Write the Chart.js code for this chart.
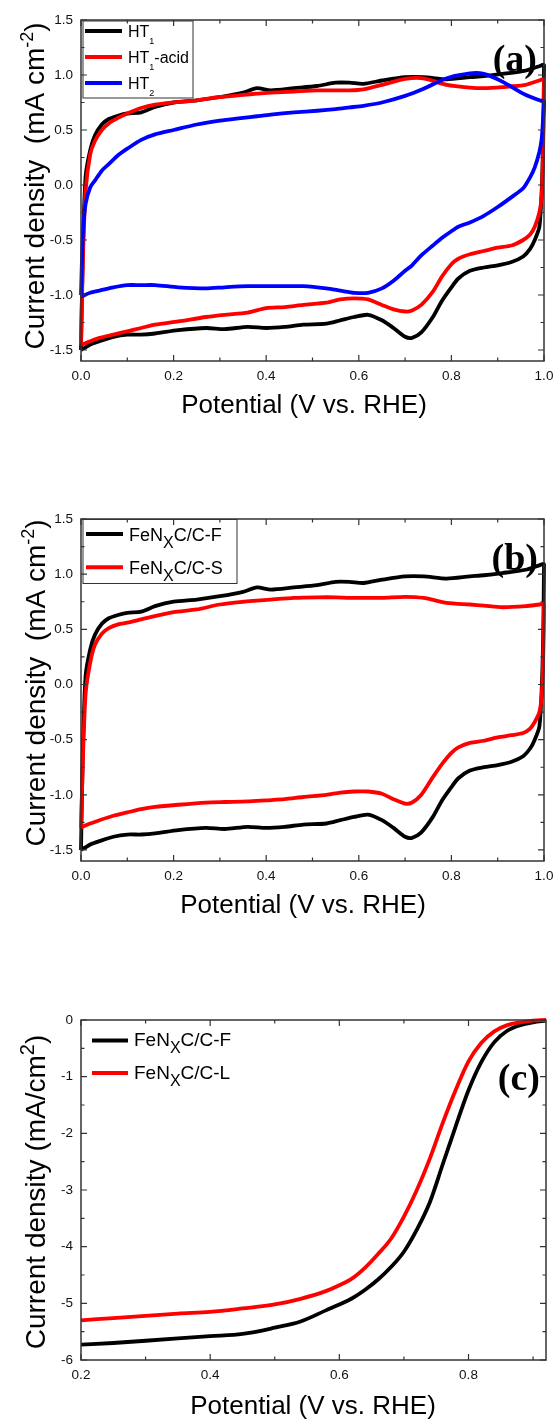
<!DOCTYPE html>
<html lang="en">
<head>
<meta charset="UTF-8">
<title>CV and LSV curves</title>
<script src="https://cdn.jsdelivr.net/npm/chart.js/dist/chart.umd.min.js"></script>
<style>
  html, body { margin: 0; padding: 0; background: #fff; overflow: hidden; }
  canvas { position: absolute; left: 0; }
</style>
</head>
<body>
<canvas id="chartA" width="557" height="440" style="top:0px"></canvas>
<canvas id="chartB" width="557" height="440" style="top:500px"></canvas>
<canvas id="chartC" width="557" height="459" style="top:960px"></canvas>

<script>
// ---------- data ----------
// CV potential grids (V vs. RHE): anodic sweep 0 -> 1, cathodic sweep 1 -> 0
const cvUpV   = [0, 0.004, 0.01, 0.02, 0.03, 0.045, 0.06, 0.08, 0.1, 0.13, 0.16, 0.2, 0.25, 0.3, 0.35, 0.38, 0.41, 0.46, 0.51, 0.55, 0.58, 0.61, 0.65, 0.7, 0.74, 0.79, 0.84, 0.87, 0.91, 0.96, 0.99, 1.0];
const cvDownV = [0.998, 0.995, 0.99, 0.98, 0.97, 0.955, 0.93, 0.9, 0.87, 0.84, 0.815, 0.8, 0.78, 0.76, 0.735, 0.715, 0.7, 0.675, 0.65, 0.62, 0.59, 0.56, 0.53, 0.48, 0.44, 0.4, 0.36, 0.31, 0.27, 0.21, 0.16, 0.13, 0.1, 0.07, 0.04, 0.02, 0.008, 0.003, 0];

// (a) current density, mA cm-2
const ht1Up       = [-1.50, -0.60, 0.08, 0.32, 0.45, 0.55, 0.60, 0.63, 0.65, 0.66, 0.71, 0.75, 0.77, 0.80, 0.84, 0.88, 0.86, 0.88, 0.90, 0.93, 0.93, 0.92, 0.95, 0.98, 0.98, 0.96, 0.98, 0.99, 1.01, 1.04, 1.08, 1.09];
const ht1Down     = [0.40, -0.05, -0.38, -0.50, -0.58, -0.65, -0.70, -0.73, -0.75, -0.78, -0.85, -0.93, -1.05, -1.20, -1.34, -1.39, -1.38, -1.30, -1.23, -1.18, -1.20, -1.23, -1.26, -1.27, -1.29, -1.30, -1.29, -1.31, -1.30, -1.32, -1.35, -1.36, -1.36, -1.38, -1.42, -1.45, -1.48, -1.49, -1.50];
const ht1AcidUp   = [-1.45, -0.70, -0.05, 0.28, 0.40, 0.50, 0.56, 0.61, 0.65, 0.70, 0.73, 0.75, 0.77, 0.80, 0.82, 0.83, 0.84, 0.85, 0.86, 0.86, 0.86, 0.87, 0.91, 0.965, 0.97, 0.91, 0.885, 0.88, 0.89, 0.91, 0.95, 0.96];
const ht1AcidDown = [0.30, -0.10, -0.25, -0.38, -0.45, -0.50, -0.55, -0.57, -0.60, -0.63, -0.67, -0.72, -0.83, -0.97, -1.09, -1.14, -1.15, -1.13, -1.09, -1.04, -1.03, -1.04, -1.07, -1.09, -1.11, -1.12, -1.16, -1.18, -1.20, -1.24, -1.27, -1.30, -1.33, -1.36, -1.39, -1.42, -1.44, -1.45, -1.45];
const ht2Up       = [-1.00, -0.45, -0.17, -0.02, 0.04, 0.13, 0.19, 0.27, 0.33, 0.41, 0.46, 0.50, 0.55, 0.585, 0.61, 0.625, 0.64, 0.66, 0.675, 0.69, 0.705, 0.72, 0.75, 0.81, 0.875, 0.97, 1.015, 1.01, 0.94, 0.82, 0.77, 0.76];
const ht2Down     = [0.60, 0.42, 0.30, 0.16, 0.07, -0.03, -0.11, -0.20, -0.28, -0.34, -0.38, -0.42, -0.48, -0.55, -0.64, -0.73, -0.78, -0.87, -0.94, -0.98, -0.98, -0.96, -0.94, -0.92, -0.92, -0.92, -0.92, -0.93, -0.94, -0.93, -0.91, -0.91, -0.91, -0.93, -0.96, -0.98, -1.00, -1.01, -1.01];

// (b) FeNxC/C-F is the same trace as HT1, FeNxC/C-S below
const feFUp   = ht1Up;
const feFDown = ht1Down;
const feSUp   = [-1.30, -0.70, -0.08, 0.20, 0.36, 0.46, 0.51, 0.545, 0.56, 0.59, 0.62, 0.655, 0.68, 0.725, 0.75, 0.76, 0.77, 0.785, 0.79, 0.79, 0.785, 0.785, 0.785, 0.795, 0.785, 0.74, 0.725, 0.715, 0.70, 0.71, 0.725, 0.73];
const feSDown = [0.20, -0.10, -0.25, -0.34, -0.40, -0.44, -0.46, -0.48, -0.51, -0.53, -0.57, -0.62, -0.72, -0.84, -1.00, -1.07, -1.08, -1.04, -0.99, -0.97, -0.97, -0.98, -1.00, -1.02, -1.04, -1.05, -1.06, -1.065, -1.07, -1.09, -1.11, -1.13, -1.16, -1.19, -1.23, -1.26, -1.28, -1.29, -1.30];

// (c) LSV, mA/cm2
const lsvV = [0.2, 0.25, 0.3, 0.35, 0.4, 0.45, 0.5, 0.54, 0.58, 0.6, 0.62, 0.64, 0.66, 0.68, 0.7, 0.72, 0.74, 0.76, 0.78, 0.8, 0.82, 0.84, 0.86, 0.88, 0.9, 0.92];
const lsvF = [-5.73, -5.70, -5.66, -5.62, -5.58, -5.54, -5.43, -5.32, -5.12, -5.02, -4.91, -4.76, -4.58, -4.36, -4.09, -3.70, -3.22, -2.55, -1.88, -1.24, -0.74, -0.39, -0.19, -0.09, -0.04, -0.01];
const lsvL = [-5.30, -5.26, -5.22, -5.18, -5.15, -5.09, -5.02, -4.92, -4.78, -4.68, -4.56, -4.37, -4.13, -3.86, -3.47, -3.00, -2.45, -1.82, -1.24, -0.73, -0.40, -0.20, -0.09, -0.04, -0.01, 0];

// tick values
const xTicksCV  = [0, 0.2, 0.4, 0.6, 0.8, 1.0];
const yTicksCV  = [-1.5, -1.0, -0.5, 0, 0.5, 1.0, 1.5];
const xTicksLSV = [0.2, 0.4, 0.6, 0.8];
const yTicksLSV = [-6, -5, -4, -3, -2, -1, 0];

// labels ( _{..} = subscript, ^{..} = superscript )
const seriesA = ['HT_{1}', 'HT_{1}-acid', 'HT_{2}'];
const seriesB = ['FeN_{X}C/C-F', 'FeN_{X}C/C-S'];
const seriesC = ['FeN_{X}C/C-F', 'FeN_{X}C/C-L'];
const xTitle  = 'Potential (V vs. RHE)';
const yTitleCV  = 'Current density  (mA cm^{-2})';
const yTitleLSV = 'Current density (mA/cm^{2})';

const BLACK = '#000000', RED = '#ff0000', BLUE = '#0000ff';
const FONT = '"Liberation Sans", Arial, sans-serif';
Chart.defaults.font.family = FONT;

// ---------- helpers ----------
const pts = (xs, ys) => xs.map((x, i) => ({x: x, y: ys[i]}));
const loop = (up, down) => pts(cvUpV, up).concat(pts(cvDownV, down));

function parseRich(str) {
  const out = [];
  const re = /([_^])\{([^}]*)\}/g;
  let last = 0, m;
  while ((m = re.exec(str))) {
    if (m.index > last) out.push({t: str.slice(last, m.index), k: 'n'});
    out.push({t: m[2], k: m[1] === '_' ? 'sub' : 'sup'});
    last = re.lastIndex;
  }
  if (last < str.length) out.push({t: str.slice(last), k: 'n'});
  return out;
}

// st = {size, sub:{size,dy}, sup:{size,dy}}
function richParts(str, st) {
  return parseRich(str).map(p => {
    const s = p.k === 'n' ? {size: st.size, dy: 0} : st[p.k];
    return {t: p.t, size: s.size, dy: s.dy};
  });
}
function richWidth(ctx, parts) {
  let w = 0;
  parts.forEach(p => { ctx.font = p.size + 'px ' + FONT; w += ctx.measureText(p.t).width; });
  return w;
}
function drawRich(ctx, x, y, parts) {
  let cx = x;
  parts.forEach(p => {
    ctx.font = p.size + 'px ' + FONT;
    ctx.fillText(p.t, cx, y + p.dy);
    cx += ctx.measureText(p.t).width;
  });
}

function minorVals(ticks, min, max) {
  const v = ticks.map(t => t.value);
  const step = v[1] - v[0];
  const out = [];
  for (let t = v[0] - step / 2; t <= max + 1e-9; t += step) {
    if (t >= min - 1e-9) out.push(t);
  }
  return out;
}

// frame, inward ticks, titles, legend and panel tag
const decoPlugin = {
  id: 'deco',
  afterDraw(chart, args, o) {
    const {ctx, chartArea: a, scales: {x, y}} = chart;
    ctx.save();
    ctx.strokeStyle = '#333';
    ctx.lineWidth = 1.5;
    ctx.strokeRect(a.left, a.top, a.right - a.left, a.bottom - a.top);

    ctx.lineWidth = 1.2;
    ctx.beginPath();
    const xt = (vals, len) => vals.forEach(v => {
      const px = x.getPixelForValue(v);
      ctx.moveTo(px, a.bottom); ctx.lineTo(px, a.bottom - len);
      ctx.moveTo(px, a.top); ctx.lineTo(px, a.top + len);
    });
    const yt = (vals, len) => vals.forEach(v => {
      const py = y.getPixelForValue(v);
      ctx.moveTo(a.left, py); ctx.lineTo(a.left + len, py);
      ctx.moveTo(a.right, py); ctx.lineTo(a.right - len, py);
    });
    xt(x.ticks.map(t => t.value), 6);
    yt(y.ticks.map(t => t.value), 6);
    xt(minorVals(x.ticks, x.min, x.max), 3.5);
    yt(minorVals(y.ticks, y.min, y.max), 3.5);
    ctx.stroke();

    ctx.fillStyle = '#000';
    ctx.textBaseline = 'alphabetic';

    // x title
    ctx.font = '26px ' + FONT;
    ctx.textAlign = 'center';
    ctx.fillText(o.xTitle, o.xTitleX, o.xTitleY);

    // y title (rotated)
    ctx.textAlign = 'left';
    const yp = richParts(o.yTitle, o.yTitleStyle);
    const yw = richWidth(ctx, yp);
    ctx.save();
    ctx.translate(o.yTitleX, o.yTitleY);
    ctx.rotate(-Math.PI / 2);
    drawRich(ctx, -yw / 2, 0, yp);
    ctx.restore();

    // legend
    const L = o.legend;
    if (L.box) {
      ctx.strokeStyle = '#333';
      ctx.lineWidth = 1;
      ctx.strokeRect(L.box[0], L.box[1], L.box[2], L.box[3]);
    }
    chart.data.datasets.forEach((ds, i) => {
      const ry = L.y0 + i * L.dy;
      ctx.strokeStyle = ds.borderColor;
      ctx.lineWidth = 4;
      ctx.beginPath();
      ctx.moveTo(L.x0, ry); ctx.lineTo(L.x1, ry);
      ctx.stroke();
      ctx.fillStyle = '#000';
      drawRich(ctx, L.tx, ry + L.base, richParts(L.labels[i], L.style));
    });

    // panel tag
    ctx.font = 'bold 38px "Liberation Serif", "Times New Roman", serif';
    ctx.textAlign = 'right';
    ctx.fillText(o.tag, o.tagX, o.tagY);
    ctx.restore();
  }
};

function makeChart(id, c) {
  return new Chart(document.getElementById(id), {
    type: 'scatter',
    data: {datasets: c.datasets},
    options: {
      responsive: false,
      animation: false,
      layout: {padding: {left: 0, right: c.padRight, top: c.padTop, bottom: 0}},
      elements: {point: {radius: 0}},
      scales: {
        x: {
          type: 'linear', min: c.xMin, max: c.xMax,
          afterBuildTicks: s => { s.ticks = c.xTicks.map(v => ({value: v})); },
          afterFit: s => { s.height = c.xHeight; s.paddingLeft = 0; s.paddingRight = 0; },
          ticks: {callback: c.xFmt, padding: 7, color: '#111', font: {size: 13.5}, maxRotation: 0},
          grid: {display: false, drawTicks: false},
          border: {display: false}
        },
        y: {
          type: 'linear', min: c.yMin, max: c.yMax,
          afterBuildTicks: s => { s.ticks = c.yTicks.map(v => ({value: v})); },
          afterFit: s => { s.width = 81; s.paddingTop = 0; s.paddingBottom = 0; },
          ticks: {callback: c.yFmt, padding: 8, color: '#111', font: {size: 13.5}},
          grid: {display: false, drawTicks: false},
          border: {display: false}
        }
      },
      plugins: {
        legend: {display: false},
        tooltip: {enabled: false},
        deco: c.deco
      }
    },
    plugins: [decoPlugin]
  });
}

const line = (label, data, color, order, extra) => Object.assign({
  label: label, data: data, showLine: true, borderColor: color, backgroundColor: color,
  borderWidth: 3.8, tension: 0.25, pointRadius: 0, clip: false, order: order
}, extra || {});

const fmt1 = v => Number(v).toFixed(1);
const fmt0 = v => String(Math.round(v));

// (a)
makeChart('chartA', {
  xMin: 0, xMax: 1, xTicks: xTicksCV, xFmt: fmt1,
  yMin: -1.6, yMax: 1.5, yTicks: yTicksCV, yFmt: fmt1,
  padTop: 20, padRight: 13, xHeight: 79,
  datasets: [
    line(seriesA[0], loop(ht1Up, ht1Down), BLACK, 3),
    line(seriesA[1], loop(ht1AcidUp, ht1AcidDown), RED, 2),
    line(seriesA[2], loop(ht2Up, ht2Down), BLUE, 1)
  ],
  deco: {
    xTitle: xTitle, xTitleX: 304, xTitleY: 413,
    yTitle: yTitleCV, yTitleX: 44, yTitleY: 186,
    yTitleStyle: {size: 28, sup: {size: 18, dy: -11}, sub: {size: 18, dy: 6}},
    legend: {box: [83, 21, 110, 77], x0: 85, x1: 122, tx: 128, y0: 31, dy: 26, base: 6,
             labels: seriesA, style: {size: 16, sub: {size: 9, dy: 6.6}, sup: {size: 9, dy: -6}}},
    tag: '(a)', tagX: 537, tagY: 71
  }
});

// (b)
makeChart('chartB', {
  xMin: 0, xMax: 1, xTicks: xTicksCV, xFmt: fmt1,
  yMin: -1.6, yMax: 1.5, yTicks: yTicksCV, yFmt: fmt1,
  padTop: 19, padRight: 13, xHeight: 79,
  datasets: [
    line(seriesB[0], loop(feFUp, feFDown), BLACK, 2),
    line(seriesB[1], loop(feSUp, feSDown), RED, 1)
  ],
  deco: {
    xTitle: xTitle, xTitleX: 303, xTitleY: 413,
    yTitle: yTitleCV, yTitleX: 45, yTitleY: 183,
    yTitleStyle: {size: 28, sup: {size: 18, dy: -11}, sub: {size: 18, dy: 6}},
    legend: {box: [83, 19.5, 154, 64], x0: 86, x1: 123, tx: 129, y0: 34, dy: 33.3, base: 6.5,
             labels: seriesB, style: {size: 18, sub: {size: 16, dy: 7}, sup: {size: 12, dy: -7}}},
    tag: '(b)', tagX: 538, tagY: 70
  }
});

// (c)
makeChart('chartC', {
  xMin: 0.2, xMax: 0.92, xTicks: xTicksLSV, xFmt: fmt1,
  yMin: -6, yMax: 0, yTicks: yTicksLSV, yFmt: fmt0,
  padTop: 60, padRight: 11, xHeight: 59,
  datasets: [
    line(seriesC[0], pts(lsvV, lsvF), BLACK, 2, {tension: 0, cubicInterpolationMode: 'monotone'}),
    line(seriesC[1], pts(lsvV, lsvL), RED, 1, {tension: 0, cubicInterpolationMode: 'monotone'})
  ],
  deco: {
    xTitle: xTitle, xTitleX: 313, xTitleY: 454,
    yTitle: yTitleLSV, yTitleX: 45, yTitleY: 232,
    yTitleStyle: {size: 28, sup: {size: 20, dy: -11}, sub: {size: 18, dy: 6}},
    legend: {box: null, x0: 92, x1: 128, tx: 134, y0: 80.5, dy: 32.5, base: 5.5,
             labels: seriesC, style: {size: 19, sub: {size: 16, dy: 7}, sup: {size: 12, dy: -7}}},
    tag: '(c)', tagX: 540, tagY: 130
  }
});
</script>
</body>
</html>
